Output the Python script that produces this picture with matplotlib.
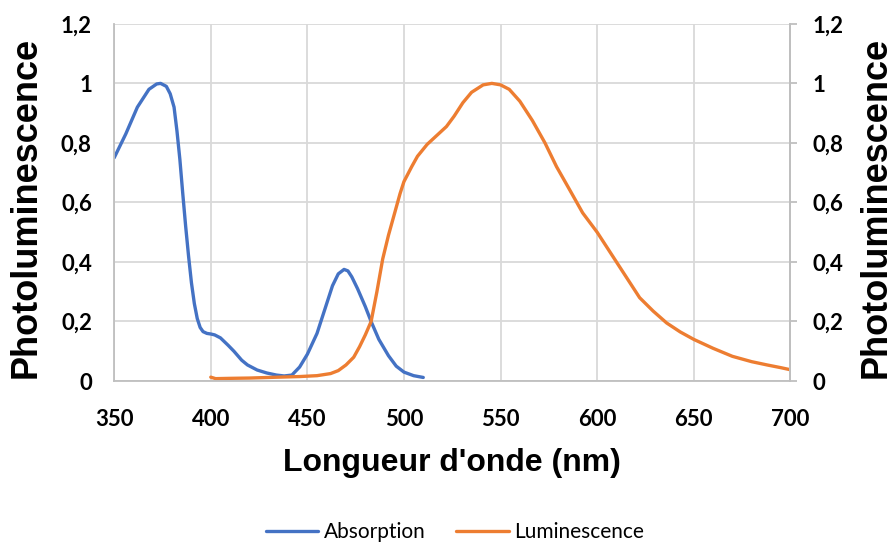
import matplotlib.pyplot as plt

# Absorption (blue)
abs_x = [350, 356, 362, 368, 372, 374, 377, 379, 381, 382.5, 384, 385.5, 387, 388.5, 390, 391.5, 393, 394.5, 396, 398,
         400, 402, 405, 409, 412, 416, 419, 424, 429, 434, 438, 442, 446, 450, 455, 459, 463,
         466, 469, 471, 473, 476, 480, 483, 487, 492, 496, 500, 505, 510]
abs_y = [0.75, 0.83, 0.92, 0.98, 0.998, 1.0, 0.99, 0.965, 0.92, 0.84, 0.745, 0.63, 0.52, 0.42, 0.33, 0.26, 0.21, 0.18, 0.166, 0.16,
         0.158, 0.155, 0.145, 0.12, 0.10, 0.07, 0.054, 0.037, 0.027, 0.02, 0.017, 0.02, 0.047, 0.09, 0.16, 0.24, 0.32,
         0.36, 0.375, 0.37, 0.35, 0.31, 0.25, 0.2, 0.14, 0.085, 0.05, 0.03, 0.018, 0.012]

# Luminescence (orange)
lum_x = [400, 402.5, 410, 420, 435, 446, 455, 462, 466, 470, 474, 477, 480, 483, 486, 489,
         492, 495, 498, 500, 504, 507, 512, 517, 522, 526, 530.5, 535, 541, 545.5, 550, 554.5,
         560, 566.5, 573, 579, 586, 592.5, 600, 605, 610, 616, 622, 629, 636, 643, 650,
         660, 670, 680, 688, 695, 700]
lum_y = [0.013, 0.008, 0.009, 0.01, 0.013, 0.015, 0.018, 0.025, 0.035, 0.054, 0.08, 0.115, 0.155, 0.2, 0.3, 0.41,
         0.49, 0.56, 0.63, 0.67, 0.72, 0.755, 0.795, 0.825, 0.855, 0.89, 0.935, 0.97, 0.995, 1.0, 0.995, 0.98,
         0.94, 0.875, 0.8, 0.72, 0.64, 0.565, 0.5, 0.45, 0.40, 0.34, 0.28, 0.235, 0.195, 0.165, 0.14,
         0.11, 0.083, 0.065, 0.054, 0.045, 0.038]

y_ticks = [0, 0.2, 0.4, 0.6, 0.8, 1.0, 1.2]
y_labels = ["0", "0,2", "0,4", "0,6", "0,8", "1", "1,2"]
x_ticks = [350, 400, 450, 500, 550, 600, 650, 700]

plt.rcParams['font.family'] = ['Liberation Sans', 'DejaVu Sans']
tick_font = {'family': 'Lato', 'size': 16, 'weight': 'bold'}
title_font = {'family': 'Liberation Sans', 'size': 26, 'weight': 'bold'}

fig = plt.figure(figsize=(8.92, 5.42), dpi=100)
ax = fig.add_axes([0.128, 0.297, 0.758, 0.659])

ax.plot(abs_x, abs_y, color='#4472C4', lw=2.4, label='Absorption', solid_capstyle='round')
ax.plot(lum_x, lum_y, color='#ED7D31', lw=2.4, label='Luminescence', solid_capstyle='round')

ax.set_xlim(350, 700)
ax.set_ylim(0, 1.2)
ax.set_xticks(x_ticks)
ax.set_xticklabels([str(v) for v in x_ticks], fontdict=tick_font)
ax.set_yticks(y_ticks)
ax.set_yticklabels(y_labels, fontdict=tick_font)
ax.grid(True, color='#d9d9d9', lw=1.3)
ax.set_axisbelow(True)
ax.spines['top'].set_visible(False)
for s in ['left', 'bottom', 'right']:
    ax.spines[s].set_color('#bfbfbf')
    ax.spines[s].set_linewidth(1.3)
ax.tick_params(axis='x', length=0, pad=20)
ax.tick_params(axis='y', length=0, pad=16)

ax.set_xlabel("Longueur d'onde (nm)", fontsize=23, fontweight='bold')
ax.xaxis.set_label_coords(0.5, -0.188)
ax.set_ylabel("Photoluminescence", **title_font)
ax.yaxis.set_label_coords(-0.104, 0.485)

ax2 = ax.twinx()
ax2.set_ylim(0, 1.2)
ax2.set_yticks(y_ticks)
ax2.set_yticklabels(y_labels, fontdict=tick_font)
ax2.tick_params(axis='y', length=5, width=1.3, color='#bfbfbf', pad=11)
for s in ['top', 'left', 'bottom']:
    ax2.spines[s].set_visible(False)
ax2.spines['right'].set_color('#bfbfbf')
ax2.spines['right'].set_linewidth(1.3)
ax2.set_ylabel("Photoluminescence", rotation=90, **title_font)
ax2.yaxis.set_label_coords(1.101, 0.485)

fig.legend(loc='center', bbox_to_anchor=(0.51, 0.018), ncol=2, frameon=False,
           prop={'family': 'Lato', 'size': 15}, handlelength=2.5, columnspacing=1.5,
           handletextpad=0.25)

fig.savefig('out.png', dpi=100)
